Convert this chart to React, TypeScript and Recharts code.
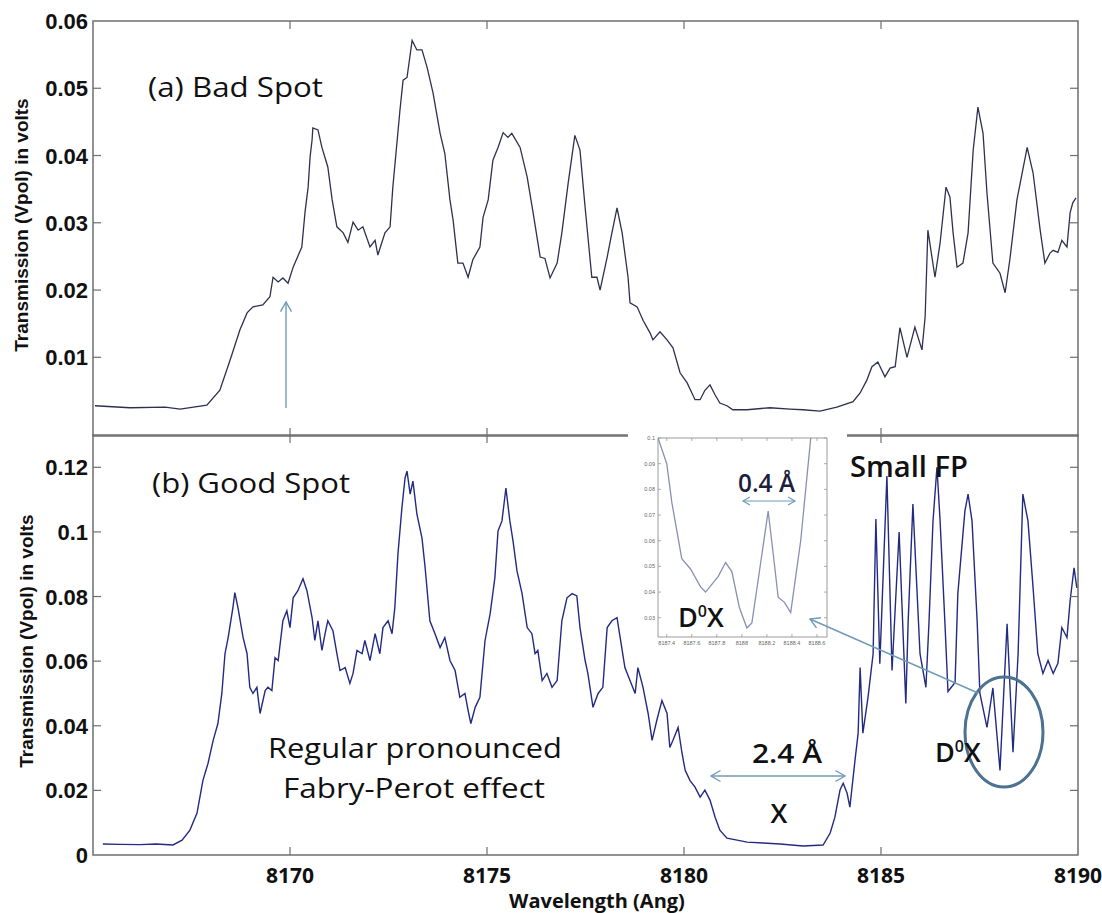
import React from 'react';
import { LineChart, Line, XAxis, YAxis, ReferenceArea } from 'recharts';

// (a) bad spot transmission, wavelength in Angstrom / volts
const badWl = [
  8165.05, 8165.94, 8166.83, 8167.21, 8167.89, 8168.22, 8168.48, 8168.73, 8168.91, 8169.06,
  8169.31, 8169.49, 8169.57, 8169.7, 8169.82, 8169.95, 8170.08, 8170.3, 8170.38, 8170.46,
  8170.51, 8170.56, 8170.58, 8170.71, 8170.81, 8170.96, 8171.07, 8171.19, 8171.35, 8171.47,
  8171.6, 8171.73, 8171.85, 8172.03, 8172.16, 8172.23, 8172.41, 8172.54, 8172.61, 8172.79,
  8172.87, 8172.97, 8173.1, 8173.22, 8173.35, 8173.48, 8173.63, 8173.81, 8173.93, 8174.06,
  8174.14, 8174.26, 8174.39, 8174.52, 8174.64, 8174.82, 8174.9, 8175.03, 8175.15, 8175.28,
  8175.41, 8175.53, 8175.63, 8175.84, 8176.02, 8176.17, 8176.35, 8176.47, 8176.6, 8176.78,
  8176.9, 8177.06, 8177.23, 8177.36, 8177.49, 8177.66, 8177.79, 8177.87, 8178.05, 8178.17,
  8178.3, 8178.43, 8178.58, 8178.63, 8178.81, 8178.96, 8179.14, 8179.21, 8179.39, 8179.57,
  8179.72, 8179.9, 8180.08, 8180.28, 8180.41, 8180.53, 8180.66, 8180.79, 8180.91, 8181.09,
  8181.24, 8181.6, 8182.18, 8182.69, 8183.02, 8183.45, 8183.88, 8184.29, 8184.47, 8184.64,
  8184.77, 8184.92, 8185.1, 8185.23, 8185.36, 8185.48, 8185.66, 8185.86, 8186.04, 8186.12,
  8186.19, 8186.37, 8186.5, 8186.65, 8186.75, 8186.83, 8186.93, 8187.08, 8187.21, 8187.34,
  8187.46, 8187.59, 8187.69, 8187.84, 8188.02, 8188.15, 8188.27, 8188.45, 8188.71, 8188.86,
  8189.04, 8189.16, 8189.29, 8189.37, 8189.49, 8189.59, 8189.72, 8189.8, 8189.87, 8189.95,
];
const badV = [
  0.0028, 0.0025, 0.0026, 0.0023, 0.0029, 0.0051, 0.0096, 0.0141, 0.0166, 0.0175,
  0.0178, 0.019, 0.0219, 0.0212, 0.0218, 0.021, 0.0234, 0.0264, 0.0315, 0.0353,
  0.0398, 0.0423, 0.0441, 0.0438, 0.0412, 0.0383, 0.0334, 0.0294, 0.0285, 0.0271,
  0.0301, 0.0289, 0.0294, 0.0264, 0.0274, 0.0252, 0.0285, 0.0294, 0.0353, 0.0467,
  0.0512, 0.0516, 0.0571, 0.0557, 0.0557, 0.0531, 0.0493, 0.0433, 0.0403, 0.0334,
  0.0304, 0.024, 0.024, 0.0219, 0.0245, 0.0264, 0.0308, 0.0334, 0.0393, 0.0412,
  0.0434, 0.0427, 0.0433, 0.0412, 0.0368, 0.0315, 0.0249, 0.0247, 0.0218, 0.024,
  0.0285, 0.0359, 0.043, 0.0408, 0.0323, 0.0219, 0.0219, 0.02, 0.0249, 0.0285,
  0.0322, 0.0285, 0.0219, 0.0181, 0.0175, 0.0155, 0.0136, 0.0126, 0.0138, 0.0126,
  0.0114, 0.0077, 0.0062, 0.0037, 0.0037, 0.0051, 0.0059, 0.0044, 0.0032, 0.0028,
  0.0022, 0.0022, 0.0025, 0.0023, 0.0022, 0.002, 0.0026, 0.0034, 0.0047, 0.0066,
  0.0086, 0.0093, 0.0071, 0.0084, 0.0086, 0.0144, 0.01, 0.0145, 0.0111, 0.016,
  0.0289, 0.0219, 0.027, 0.0353, 0.0338, 0.0285, 0.0234, 0.024, 0.0285, 0.0408,
  0.0472, 0.0433, 0.0344, 0.024, 0.0225, 0.0196, 0.0245, 0.0334, 0.0412, 0.0374,
  0.0289, 0.024, 0.0255, 0.0259, 0.0256, 0.0274, 0.0264, 0.0315, 0.033, 0.0337,
];

// (b) good spot transmission
const goodWl = [
  8165.25, 8165.7, 8166.19, 8166.6, 8167.03, 8167.26, 8167.46, 8167.64, 8167.79, 8167.92,
  8168.05, 8168.17, 8168.27, 8168.35, 8168.43, 8168.55, 8168.6, 8168.68, 8168.81, 8168.91,
  8168.98, 8169.06, 8169.16, 8169.24, 8169.37, 8169.44, 8169.54, 8169.62, 8169.7, 8169.82,
  8169.92, 8170.0, 8170.08, 8170.2, 8170.33, 8170.43, 8170.56, 8170.63, 8170.71, 8170.81,
  8170.89, 8170.96, 8171.09, 8171.19, 8171.27, 8171.4, 8171.52, 8171.6, 8171.7, 8171.83,
  8171.9, 8172.03, 8172.16, 8172.28, 8172.36, 8172.49, 8172.59, 8172.66, 8172.74, 8172.84,
  8172.92, 8172.97, 8173.05, 8173.12, 8173.22, 8173.35, 8173.43, 8173.55, 8173.68, 8173.81,
  8173.93, 8174.06, 8174.19, 8174.31, 8174.44, 8174.52, 8174.59, 8174.7, 8174.82, 8174.95,
  8175.08, 8175.2, 8175.28, 8175.38, 8175.48, 8175.58, 8175.66, 8175.76, 8175.89, 8176.02,
  8176.14, 8176.22, 8176.29, 8176.4, 8176.52, 8176.65, 8176.78, 8176.9, 8177.03, 8177.16,
  8177.28, 8177.36, 8177.49, 8177.56, 8177.69, 8177.82, 8177.94, 8178.05, 8178.17, 8178.3,
  8178.38, 8178.5, 8178.63, 8178.76, 8178.83, 8178.96, 8179.09, 8179.19, 8179.31, 8179.44,
  8179.57, 8179.64, 8179.72, 8179.85, 8179.95, 8180.03, 8180.15, 8180.28, 8180.41, 8180.53,
  8180.66, 8180.79, 8180.91, 8181.09, 8181.35, 8181.6, 8182.01, 8182.44, 8183.02, 8183.53,
  8183.71, 8183.83, 8183.96, 8184.04, 8184.14, 8184.21, 8184.34, 8184.42, 8184.47, 8184.54,
  8184.67, 8184.8, 8184.87, 8184.97, 8185.15, 8185.28, 8185.46, 8185.63, 8185.69, 8185.81,
  8185.91, 8185.99, 8186.14, 8186.22, 8186.32, 8186.42, 8186.5, 8186.62, 8186.7, 8186.88,
  8186.95, 8187.13, 8187.21, 8187.31, 8187.44, 8187.51, 8187.69, 8187.84, 8188.02, 8188.2,
  8188.35, 8188.48, 8188.6, 8188.73, 8188.86, 8188.98, 8189.11, 8189.24, 8189.37, 8189.49,
  8189.59, 8189.72, 8189.8, 8189.9, 8189.97,
];
const goodV = [
  0.0034, 0.0033, 0.0032, 0.0034, 0.0031, 0.0046, 0.0077, 0.013, 0.0231, 0.0284,
  0.0355, 0.0407, 0.05, 0.0623, 0.0673, 0.0765, 0.0812, 0.0765, 0.0673, 0.0623,
  0.0519, 0.05, 0.0519, 0.0438, 0.0509, 0.0519, 0.0509, 0.0611, 0.0602, 0.0725,
  0.0756, 0.0704, 0.0796, 0.0818, 0.0855, 0.0818, 0.0735, 0.0664, 0.0725, 0.0633,
  0.0685, 0.0725, 0.0694, 0.0623, 0.0571, 0.058, 0.0531, 0.0562, 0.0633, 0.0623,
  0.0664, 0.0602, 0.0685, 0.0623, 0.0704, 0.0725, 0.0685, 0.0765, 0.0932, 0.1074,
  0.1167, 0.1188, 0.1117, 0.1157, 0.1056, 0.0981, 0.0889, 0.0725, 0.0685, 0.0642,
  0.0673, 0.0602, 0.0571, 0.0488, 0.05, 0.0448, 0.0407, 0.0457, 0.0488, 0.0664,
  0.0747, 0.0858, 0.1003, 0.1034, 0.1136, 0.1034, 0.0972, 0.088, 0.0809, 0.0704,
  0.0685, 0.0623, 0.0633, 0.054, 0.0562, 0.0519, 0.054, 0.0725, 0.0796, 0.0809,
  0.0802, 0.0704, 0.0602, 0.0562, 0.0457, 0.05, 0.0519, 0.0704, 0.0725, 0.0735,
  0.0673, 0.058, 0.054, 0.05, 0.058, 0.0519, 0.0438, 0.0355, 0.0417, 0.0478,
  0.0438, 0.0333, 0.0355, 0.0395, 0.0315, 0.0262, 0.0231, 0.021, 0.0179, 0.0201,
  0.017, 0.0117, 0.0077, 0.0052, 0.0046, 0.004, 0.0037, 0.0034, 0.0028, 0.0031,
  0.0068, 0.0117, 0.0201, 0.0222, 0.0191, 0.0148, 0.0293, 0.0377, 0.058, 0.0377,
  0.0488, 0.0623, 0.104, 0.0592, 0.1173, 0.0571, 0.1, 0.0469, 0.0725, 0.1086,
  0.0827, 0.0623, 0.0519, 0.0725, 0.1034, 0.12, 0.1034, 0.0725, 0.0506, 0.0534,
  0.0809, 0.1065, 0.1117, 0.1034, 0.0725, 0.05, 0.0395, 0.0517, 0.0262, 0.0716,
  0.0318, 0.0623, 0.1117, 0.1034, 0.0827, 0.0623, 0.0562, 0.0602, 0.0562, 0.0593,
  0.0704, 0.0673, 0.0787, 0.0889, 0.0827,
];

// zoomed D0X region
const zoomWl = [
  8187.33, 8187.4, 8187.44, 8187.52, 8187.59, 8187.67, 8187.71, 8187.76, 8187.81, 8187.87,
  8187.92, 8187.98, 8188.04, 8188.08, 8188.14, 8188.21, 8188.25, 8188.29, 8188.34, 8188.39,
  8188.47, 8188.55, 8188.67,
];
const zoomV = [
  0.1, 0.09, 0.075, 0.053, 0.049, 0.042, 0.04, 0.043, 0.046, 0.0515,
  0.048, 0.034, 0.026, 0.028, 0.048, 0.0715, 0.055, 0.038, 0.036, 0.032,
  0.06, 0.1, 0.115,
];

const wlTicks = [8170, 8175, 8180, 8185, 8190];
const badTicks = [0.01, 0.02, 0.03, 0.04, 0.05, 0.06];
const goodTicks = [0, 0.02, 0.04, 0.06, 0.08, 0.1, 0.12];
const zoomYTicks = [0.03, 0.04, 0.05, 0.06, 0.07, 0.08, 0.09, 0.1];
const zoomXTicks = [8187.4, 8187.6, 8187.8, 8188, 8188.2, 8188.4, 8188.6];

const badData = badWl.map((w, i) => ({ w, v: badV[i] }));
const goodData = goodWl.map((w, i) => ({ w, v: goodV[i] }));
const zoomData = zoomWl.map((w, i) => ({ w, v: zoomV[i] }));

const PL = 93;
const PR = 1078;
const AXIS = '#6f6f6f';
const ARROW = '#6f9bbb';
const SANS = "'Open Sans', 'Liberation Sans', sans-serif";
const ARIAL = "'Liberation Sans', Arial, sans-serif";

const fmtV = (v: number) => (v === 0 ? '0' : v === 0.1 ? '0.1' : v.toFixed(2));

function yTick(top: number, bottom: number, showLabel: boolean) {
  return (p: any) => {
    const y = p.y;
    const edge = Math.abs(y - top) < 1 || Math.abs(y - bottom) < 1;
    return (
      <g>
        {!edge && <line x1={PL} x2={PL + 8} y1={y} y2={y} stroke={AXIS} strokeWidth={1.2} />}
        {!edge && <line x1={PR - 8} x2={PR} y1={y} y2={y} stroke={AXIS} strokeWidth={1.2} />}
        {showLabel && (
          <text x={PL - 5} y={y + 8} textAnchor="end" fontFamily={ARIAL} fontWeight={700} fontSize={22} fill="#111">
            {fmtV(p.payload.value)}
          </text>
        )}
      </g>
    );
  };
}

function xTick(top: number, bottom: number, showLabel: boolean) {
  return (p: any) => {
    const x = p.x;
    const edge = Math.abs(x - PR) < 1;
    return (
      <g>
        {!edge && <line x1={x} x2={x} y1={bottom} y2={bottom - 8} stroke={AXIS} strokeWidth={1.2} />}
        {!edge && <line x1={x} x2={x} y1={top} y2={top + 8} stroke={AXIS} strokeWidth={1.2} />}
        {showLabel && (
          <text x={x} y={bottom + 28} textAnchor="middle" fontFamily={SANS} fontWeight={700} fontSize={21} fill="#111">
            {p.payload.value}
          </text>
        )}
      </g>
    );
  };
}

function zoomYTick(p: any) {
  const y = p.y;
  return (
    <g>
      <line x1={30} x2={33} y1={y} y2={y} stroke="#999" strokeWidth={0.8} />
      <line x1={196} x2={199} y1={y} y2={y} stroke="#999" strokeWidth={0.8} />
      <text x={27} y={y + 2} textAnchor="end" fontFamily={ARIAL} fontSize={5.5} fill="#666">
        {fmtV(p.payload.value)}
      </text>
    </g>
  );
}

function zoomXTick(p: any) {
  const x = p.x;
  return (
    <g>
      <line x1={x} x2={x} y1={213} y2={210} stroke="#999" strokeWidth={0.8} />
      <line x1={x} x2={x} y1={14} y2={17} stroke="#999" strokeWidth={0.8} />
      <text x={x} y={221} textAnchor="middle" fontFamily={ARIAL} fontSize={5.5} fill="#666">
        {String(+p.payload.value.toFixed(1))}
      </text>
    </g>
  );
}

function chevron(tipX: number, tipY: number, dx: number, dy: number, size: number) {
  // open arrow head pointing towards (tipX, tipY); (dx, dy) points back along the shaft
  const len = Math.hypot(dx, dy);
  const ux = dx / len;
  const uy = dy / len;
  const c = Math.cos(Math.PI / 6);
  const s = Math.sin(Math.PI / 6);
  const a = [tipX + size * (ux * c - uy * s), tipY + size * (ux * s + uy * c)];
  const b = [tipX + size * (ux * c + uy * s), tipY + size * (-ux * s + uy * c)];
  return `${a[0]},${a[1]} ${tipX},${tipY} ${b[0]},${b[1]}`;
}

export default function App() {
  return (
    <div style={{ position: 'absolute', left: 0, top: 0, width: 1102, height: 913, background: '#fff', overflow: 'hidden' }}>
      <div style={{ position: 'absolute', left: 0, top: 0 }}>
        <LineChart width={1102} height={470} data={badData} margin={{ top: 21, right: 24, bottom: 4, left: 0 }}>
          <XAxis
            dataKey="w"
            type="number"
            domain={[8165, 8190]}
            ticks={wlTicks}
            interval={0}
            height={30}
            axisLine={false}
            tickLine={false}
            tick={xTick(21, 436, false)}
          />
          <YAxis
            type="number"
            domain={[-0.0017, 0.06]}
            ticks={badTicks}
            interval={0}
            width={93}
            axisLine={false}
            tickLine={false}
            tick={yTick(21, 436, true)}
          />
          <ReferenceArea x1={8165} x2={8190} y1={-0.0017} y2={0.06} fill="none" stroke={AXIS} strokeWidth={1.5} />
          <Line type="linear" dataKey="v" stroke="#2e3050" strokeWidth={1.3} dot={false} isAnimationActive={false} />
        </LineChart>
      </div>

      <div style={{ position: 'absolute', left: 0, top: 420 }}>
        <LineChart width={1102} height={493} data={goodData} margin={{ top: 15, right: 24, bottom: 28, left: 0 }}>
          <XAxis
            dataKey="w"
            type="number"
            domain={[8165, 8190]}
            ticks={wlTicks}
            interval={0}
            height={30}
            axisLine={false}
            tickLine={false}
            tick={xTick(15, 435, true)}
          />
          <YAxis
            type="number"
            domain={[0, 0.13]}
            ticks={goodTicks}
            interval={0}
            width={93}
            axisLine={false}
            tickLine={false}
            tick={yTick(15, 435, true)}
          />
          <ReferenceArea x1={8165} x2={8190} y1={0} y2={0.13} fill="none" stroke={AXIS} strokeWidth={1.5} />
          <Line type="linear" dataKey="v" stroke="#222a82" strokeWidth={1.4} dot={false} isAnimationActive={false} />
        </LineChart>
      </div>

      <div style={{ position: 'absolute', left: 628, top: 424, width: 219, height: 226, background: '#fff' }}>
        <LineChart width={219} height={226} data={zoomData} margin={{ top: 14, right: 20, bottom: 3, left: 0 }}>
          <XAxis
            dataKey="w"
            type="number"
            domain={[8187.33, 8188.68]}
            ticks={zoomXTicks}
            interval={0}
            height={10}
            axisLine={false}
            tickLine={false}
            allowDataOverflow
            tick={zoomXTick}
          />
          <YAxis
            type="number"
            domain={[0.0225, 0.1]}
            ticks={zoomYTicks}
            interval={0}
            width={30}
            axisLine={false}
            tickLine={false}
            allowDataOverflow
            tick={zoomYTick}
          />
          <ReferenceArea x1={8187.33} x2={8188.68} y1={0.0225} y2={0.1} fill="none" stroke="#9a9a9a" strokeWidth={1} />
          <Line type="linear" dataKey="v" stroke="#8a8fb4" strokeWidth={1.3} dot={false} isAnimationActive={false} />
        </LineChart>
      </div>

      <svg width={1102} height={913} style={{ position: 'absolute', left: 0, top: 0, pointerEvents: 'none' }}>
        {/* axis titles */}
        <text
          transform="translate(28,225) rotate(-90)"
          textAnchor="middle"
          fontFamily={ARIAL}
          fontWeight={700}
          fontSize={19}
          fill="#111"
        >
          Transmission (Vpol) in volts
        </text>
        <text
          transform="translate(33,641) rotate(-90)"
          textAnchor="middle"
          fontFamily={ARIAL}
          fontWeight={700}
          fontSize={19}
          fill="#111"
        >
          Transmission (Vpol) in volts
        </text>
        <text x={597} y={908} textAnchor="middle" fontFamily={SANS} fontWeight={700} fontSize={20} fill="#111">
          Wavelength (Ang)
        </text>

        {/* panel titles */}
        <text x={148} y={97} fontFamily={SANS} fontSize={27} fill="#111" textLength={175} lengthAdjust="spacingAndGlyphs">
          (a) Bad Spot
        </text>
        <text x={152} y={493} fontFamily={SANS} fontSize={27} fill="#111" textLength={198} lengthAdjust="spacingAndGlyphs">
          (b) Good Spot
        </text>

        {/* arrow at the shoulder of the bad spot */}
        <line x1={286} y1={408} x2={286} y2={302} stroke={ARROW} strokeWidth={1.4} />
        <polyline points={chevron(286, 302, 0, 1, 11)} fill="none" stroke={ARROW} strokeWidth={1.4} />

        {/* Fabry-Perot note */}
        <text x={268} y={758} fontFamily={SANS} fontSize={27} fill="#111" textLength={294} lengthAdjust="spacingAndGlyphs">
          Regular pronounced
        </text>
        <text x={283} y={798} fontFamily={SANS} fontSize={27} fill="#111" textLength={262} lengthAdjust="spacingAndGlyphs">
          Fabry-Perot effect
        </text>

        {/* 2.4 A gap */}
        <text x={752} y={763} fontFamily={SANS} fontWeight={600} fontSize={27} fill="#111" textLength={70} lengthAdjust="spacingAndGlyphs">
          2.4 Å
        </text>
        <line x1={711} y1={776} x2={845} y2={776} stroke={ARROW} strokeWidth={1.4} />
        <polyline points={chevron(711, 776, 1, 0, 11)} fill="none" stroke={ARROW} strokeWidth={1.4} />
        <polyline points={chevron(845, 776, -1, 0, 11)} fill="none" stroke={ARROW} strokeWidth={1.4} />
        <text x={779} y={823} textAnchor="middle" fontFamily={SANS} fontWeight={600} fontSize={27} fill="#111">
          X
        </text>

        <text x={850} y={477} fontFamily={SANS} fontWeight={600} fontSize={28} fill="#111" textLength={118} lengthAdjust="spacingAndGlyphs">
          Small FP
        </text>

        {/* D0X circled and pointer to the zoom */}
        <ellipse cx={1004} cy={732} rx={39} ry={55} fill="none" stroke="#4d7191" strokeWidth={3} />
        <line x1={978} y1={693} x2={810} y2={619} stroke={ARROW} strokeWidth={1.4} />
        <polyline points={chevron(810, 619, 168, 74, 11)} fill="none" stroke={ARROW} strokeWidth={1.4} />
        <text x={935} y={762} fontFamily={SANS} fontWeight={600} fontSize={27} fill="#111">
          D<tspan dy={-10} fontSize={16}>0</tspan>
          <tspan dy={10}>X</tspan>
        </text>

        {/* labels inside the zoom */}
        <text x={738} y={492} fontFamily={SANS} fontWeight={600} fontSize={25} fill="#1c1f3c" textLength={57} lengthAdjust="spacingAndGlyphs">
          0.4 Å
        </text>
        <line x1={743} y1={501} x2={795} y2={501} stroke={ARROW} strokeWidth={1.2} />
        <polyline points={chevron(743, 501, 1, 0, 8)} fill="none" stroke={ARROW} strokeWidth={1.2} />
        <polyline points={chevron(795, 501, -1, 0, 8)} fill="none" stroke={ARROW} strokeWidth={1.2} />
        <text x={678} y={627} fontFamily={SANS} fontWeight={600} fontSize={27} fill="#111">
          D<tspan dy={-10} fontSize={16}>0</tspan>
          <tspan dy={10}>X</tspan>
        </text>
      </svg>
    </div>
  );
}
